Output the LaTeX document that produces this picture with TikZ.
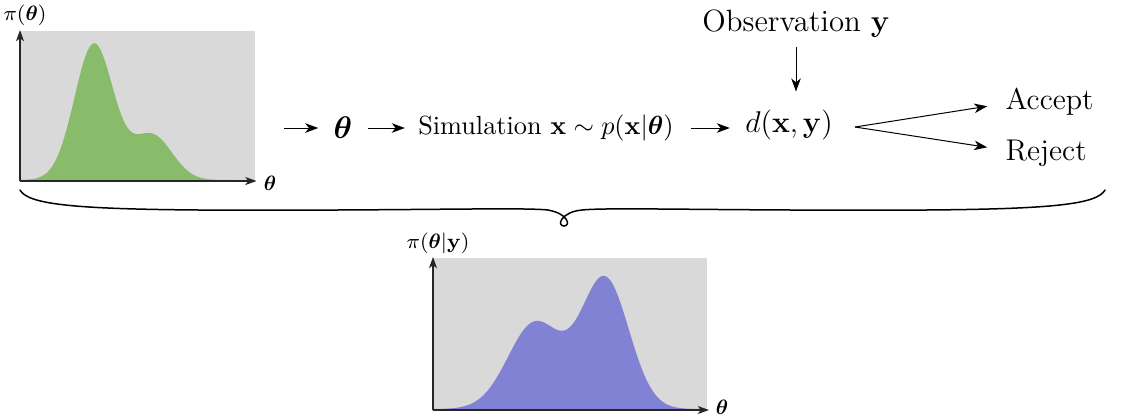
\RequirePackage{fix-cm}
\documentclass[tikz,border=0pt]{standalone}
\usepackage{amsmath}
\usetikzlibrary{arrows.meta}
\definecolor{plotgray}{RGB}{217,217,217}
\definecolor{priorgreen}{RGB}{136,187,106}
\definecolor{postblue}{RGB}{130,130,212}
\begin{document}
\begin{tikzpicture}[x=0.4pt,y=-0.4pt,
  arr/.style={-{Stealth[length=5.2pt,width=3.8pt,inset=1.5pt]}, line width=0.4pt},
  axisarr/.style={-{Stealth[length=4.5pt,width=3.2pt,inset=1.2pt]}, line width=0.45pt, black!85},
  txt/.style={inner sep=0pt, anchor=base},
  plotbox/.style={inner sep=0pt, fill=plotgray, anchor=north west},
  smalllab/.style={inner sep=0pt, font=\fontsize{8.3}{10}\selectfont}]
\useasboundingbox (0,0) rectangle (1124,416);

% ---- prior plot ----
\node[plotbox, minimum width=93.6pt, minimum height=60pt] (prior) at (20,30) {};
\fill[priorgreen] (20,180) -- plot[domain=20:254,samples=150]
  (\x,{180-136*exp(-((\x-94)/19.5)*((\x-94)/19.5)/2)-45*exp(-((\x-152)/20)*((\x-152)/20)/2)})
  -- (254,180) -- cycle;
\draw[axisarr] (prior.south west) -- (prior.north west);
\draw[axisarr] (prior.south west) -- ([xshift=0.6pt]prior.south east);
\node[smalllab] (priorlab) at (25,15) {$\pi(\boldsymbol{\theta})$};
\node[smalllab] (priorth) at (270,183) {$\boldsymbol{\theta}$};

% ---- main row ----
\node[inner sep=0pt, font=\fontsize{12.5}{14}\selectfont] (th) at (343,128) {$\boldsymbol{\theta}$};
\node[txt, font=\fontsize{10.5}{12}\selectfont] (sim) at (546,134)
  {Simulation $\mathbf{x}\sim p(\mathbf{x}|\boldsymbol{\theta})$};
\node[txt, font=\fontsize{12}{14}\selectfont] (d) at (789,132) {$d(\mathbf{x},\mathbf{y})$};
\node[txt, font=\fontsize{12.3}{14}\selectfont] (obs) at (796,31) {Observation $\mathbf{y}$};
\node[txt, anchor=base west, font=\fontsize{12}{14}\selectfont] (acc) at (1005,109) {Accept};
\node[txt, anchor=base west, font=\fontsize{12}{14}\selectfont] (rej) at (1005,160) {Reject};
\coordinate (fork) at (855,127);

\draw[arr, shorten <=11.6pt, shorten >=6pt] (th.west -| prior.east) -- (th.west);
\draw[arr, shorten <=6pt, shorten >=5.2pt] (th.east) -- (th.east -| sim.west);
\draw[arr, shorten <=6.8pt, shorten >=6pt] (th.east -| sim.east) -- (th.east -| d.west);
\draw[arr, shorten <=4pt, shorten >=7pt] (obs.south) -- (obs.south |- d.north);
\draw[arr, shorten >=7.2pt] (fork) -- ([yshift=-0.9pt]acc.west);
\draw[arr, shorten >=7.2pt] (fork) -- ([yshift=1.1pt]rej.west);

% ---- brace ----
\draw[line width=0.6pt, line cap=round]
  (20,190) .. controls (28,204) and (70,209) .. (200,210)
  .. controls (400,211) and (520,207) .. (548,210)
  .. controls (558,212) and (563,215) .. (566,219)
  .. controls (569,223) and (567,226) .. (564,226)
  .. controls (561,226) and (559,223) .. (562,219)
  .. controls (566,214) and (572,211) .. (582,210)
  .. controls (610,207) and (730,211) .. (925,210)
  .. controls (1055,209) and (1097,204) .. (1105,190);

% ---- posterior plot ----
\node[plotbox, minimum width=109.2pt, minimum height=60.8pt] (post) at (433,257) {};
\fill[postblue] (433,409) -- plot[domain=433:706,samples=160]
  (\x,{409-86*exp(-((\x-535)/27)*((\x-535)/27)/2)-130*exp(-((\x-605)/24)*((\x-605)/24)/2)})
  -- (706,409) -- cycle;
\draw[axisarr] (post.south west) -- (post.north west);
\draw[axisarr] (post.south west) -- ([xshift=0.8pt]post.south east);
\node[smalllab] (postlab) at (438,243) {$\pi(\boldsymbol{\theta}|\mathbf{y})$};
\node[smalllab] (postth) at (722,407) {$\boldsymbol{\theta}$};
\end{tikzpicture}
\end{document}
